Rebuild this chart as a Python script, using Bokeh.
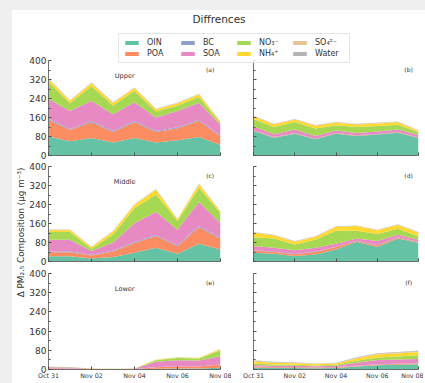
import pandas as pd
from bokeh.embed import file_html
from bokeh.layouts import column, row
from bokeh.models import (ColumnDataSource, CustomLabelingPolicy,
                          DatetimeTickFormatter, FixedTicker, Label, Legend,
                          LegendItem, Range1d)
from bokeh.palettes import Set2
from bokeh.plotting import figure
from bokeh.resources import INLINE

# ---------------------------------------------------------------- data
dates = pd.to_datetime(["2019-10-31", "2019-11-01", "2019-11-02", "2019-11-03",
                        "2019-11-04", "2019-11-05", "2019-11-06", "2019-11-07",
                        "2019-11-08"])
tick_dates = pd.to_datetime(["2019-10-31", "2019-11-02", "2019-11-04",
                             "2019-11-06", "2019-11-08"])

species = ["OIN", "POA", "BC", "SOA", "NO3", "NH4", "SO4", "Water"]
species_labels = ["OIN", "POA", "BC", "SOA", "NO₃⁻", "NH₄⁺", "SO₄²⁻", "Water"]
species_colors = list(Set2[8])

y_ticks = [0, 80, 160, 240, 320, 400]
y_minor_ticks = [40, 120, 200, 280, 360]

# left column (a, c, e)
upper_left = dict(
    OIN=[80, 60, 74, 55, 74, 55, 64, 78, 44],
    POA=[70, 48, 66, 44, 66, 44, 51, 68, 36],
    BC=[5, 4, 5, 4, 5, 4, 4, 5, 3],
    SOA=[83, 75, 86, 71, 79, 57, 68, 71, 47],
    NO3=[72, 33, 61, 37, 48, 25, 22, 24, 6],
    NH4=[12, 10, 12, 10, 11, 9, 10, 11, 5],
    SO4=[2, 2, 2, 2, 2, 2, 2, 2, 1],
    Water=[1, 1, 1, 1, 1, 1, 1, 1, 1],
)
middle_left = dict(
    OIN=[22, 22, 13, 19, 37, 58, 33, 75, 51],
    POA=[17, 17, 12, 23, 41, 49, 31, 69, 45],
    BC=[3, 3, 2, 3, 4, 5, 4, 6, 4],
    SOA=[50, 50, 17, 34, 79, 98, 66, 101, 61],
    NO3=[32, 32, 10, 34, 63, 72, 37, 58, 42],
    NH4=[8, 8, 6, 12, 14, 20, 6, 16, 7],
    SO4=[2, 2, 1, 2, 2, 2, 1, 2, 1],
    Water=[1, 1, 1, 1, 1, 1, 1, 1, 1],
)
lower_left = dict(
    OIN=[1, 1, 0.5, 0.3, 0.5, 3, 4, 4, 7],
    POA=[4, 3.5, 1.5, 1, 1, 6, 8, 8, 14],
    BC=[0.5, 0.5, 0.2, 0.2, 0.2, 1, 1, 1, 1],
    SOA=[4, 3.5, 1, 1, 1.5, 22, 26, 25, 33],
    NO3=[0.5, 0.5, 0.3, 0.2, 0.3, 7, 9, 8, 25],
    NH4=[0.5, 0.5, 0.3, 0.2, 0.3, 2, 2, 2, 4],
    SO4=[0.3, 0.3, 0.1, 0.1, 0.1, 0.5, 0.5, 0.5, 1],
    Water=[0.2, 0.2, 0.1, 0.1, 0.1, 0.5, 0.5, 0.5, 1],
)

# right column (b, d, f)
upper_right = dict(
    OIN=[103, 75, 92, 68, 92, 82, 88, 96, 74],
    POA=[2, 2, 2, 2, 2, 2, 2, 2, 1],
    BC=[1, 1, 1, 1, 1, 1, 1, 1, 1],
    SOA=[16, 12, 14, 11, 10, 10, 10, 11, 10],
    NO3=[32, 30, 32, 32, 22, 25, 23, 20, 12],
    NH4=[10, 11, 10, 11, 11, 11, 11, 10, 5],
    SO4=[2, 2, 2, 2, 2, 2, 2, 2, 2],
    Water=[1, 1, 1, 1, 1, 1, 1, 1, 1],
)
middle_right = dict(
    OIN=[37, 33, 23, 30, 51, 83, 61, 97, 79],
    POA=[8, 7, 8, 10, 10, 3, 6, 4, 3],
    BC=[2, 1, 1, 1, 1, 1, 1, 1, 1],
    SOA=[18, 17, 15, 17, 13, 10, 18, 11, 9],
    NO3=[37, 39, 25, 34, 55, 33, 30, 25, 14],
    NH4=[19, 13, 11, 11, 15, 19, 15, 16, 15],
    SO4=[2, 2, 2, 2, 2, 2, 2, 2, 2],
    Water=[1, 1, 1, 1, 1, 1, 1, 1, 1],
)
lower_right = dict(
    OIN=[8, 6, 6, 5, 6, 12, 18, 20, 22],
    POA=[3, 3, 3, 3, 3, 3, 3, 3, 3],
    BC=[1, 1, 1, 1, 1, 1, 1, 1, 1],
    SOA=[7, 6, 6, 5, 6, 12, 18, 18, 18],
    NO3=[6, 5, 4, 3, 4, 8, 10, 12, 15],
    NH4=[8, 6, 6, 5, 5, 10, 12, 13, 14],
    SO4=[4, 3, 3, 2, 2, 3, 4, 4, 4],
    Water=[2, 2, 1, 1, 1, 2, 2, 2, 2],
)

# ---------------------------------------------------------------- styling
FONT = "DejaVu Sans"
TEXT = "#333333"
AXIS = "#4d4d4d"


def to_ms(ts):
    return ts.value / 1e6


x_start, x_end = to_ms(dates[0]), to_ms(dates[-1])
x_span = x_end - x_start

# canvas height, top border, bottom border of each panel row
ROW_HEIGHT = [112, 112, 116]
ROW_TOP = [5, 5, 6]
ROW_BOTTOM = [10, 10, 14]


def no_labels():
    # keep the ticks, drop every tick label
    return CustomLabelingPolicy(code="return []")


def bare_figure(**kw):
    f = figure(output_backend="svg", toolbar_location=None,
               x_axis_location=None, y_axis_location=None,
               min_border_left=0, min_border_right=0,
               min_border_top=0, min_border_bottom=0, **kw)
    f.grid.visible = False
    f.outline_line_color = None
    f.border_fill_alpha = 0
    f.background_fill_alpha = 0
    return f


def make_panel(values, tag, col, row_idx, layer=None):
    left = col == 0
    p = figure(width=205 if left else 192, height=ROW_HEIGHT[row_idx],
               x_axis_type="datetime",
               x_range=Range1d(x_start, x_end), y_range=Range1d(0, 400),
               min_border_left=20 if left else 12,
               min_border_right=11 if left else 5,
               min_border_top=ROW_TOP[row_idx],
               min_border_bottom=ROW_BOTTOM[row_idx],
               output_backend="svg", toolbar_location=None)
    src = ColumnDataSource(dict(x=dates, **values))
    p.varea_stack(stackers=species, x="x", color=species_colors, source=src)

    p.grid.visible = False
    p.outline_line_color = None
    p.background_fill_color = "white"
    p.border_fill_alpha = 0

    xa, ya = p.xaxis[0], p.yaxis[0]
    for ax in (xa, ya):
        ax.axis_line_color = AXIS
        ax.axis_line_width = 0.8
        ax.major_tick_line_color = AXIS
        ax.minor_tick_line_color = AXIS
        ax.major_label_text_font = FONT
        ax.major_label_text_color = TEXT

    xa.ticker = FixedTicker(ticks=[to_ms(t) for t in tick_dates])
    xa.formatter = DatetimeTickFormatter(days="%b %d", months="%b %d",
                                         hours="%b %d")
    xa.major_tick_in = 3
    xa.major_tick_out = 0
    xa.minor_tick_in = 0
    xa.minor_tick_out = 0
    xa.major_label_standoff = 2
    xa.major_label_text_font_size = "6.3px"
    if row_idx != 2:
        xa.major_label_policy = no_labels()

    ya.ticker = FixedTicker(ticks=y_ticks, minor_ticks=y_minor_ticks)
    ya.bounds = (0, 400)
    ya.major_tick_in = 3
    ya.major_tick_out = 0
    ya.minor_tick_in = 2
    ya.minor_tick_out = 0
    ya.major_label_standoff = 2
    ya.major_label_text_font_size = "9px"
    if not left:
        ya.major_label_policy = no_labels()

    p.add_layout(Label(x=x_start + 0.94 * x_span, y=362, text=f"({tag})",
                       text_font=FONT, text_font_size="6px",
                       text_align="center", text_baseline="middle",
                       text_color=TEXT))
    if layer:
        p.add_layout(Label(x=x_start + 0.443 * x_span, y=334, text=layer,
                           text_font=FONT, text_font_size="6.6px",
                           text_align="center", text_baseline="middle",
                           text_color=TEXT))
    return p


pa = make_panel(upper_left, "a", 0, 0, layer="Upper")
pb = make_panel(upper_right, "b", 1, 0)
pc = make_panel(middle_left, "c", 0, 1, layer="Middle")
pd_ = make_panel(middle_right, "d", 1, 1)
pe = make_panel(lower_left, "e", 0, 2, layer="Lower")
pf = make_panel(lower_right, "f", 1, 2)

# rows overlap slightly so that tick labels near a row edge are never cut
panel_rows = column(row(pa, pb, margin=(0, 0, -6, 0)),
                    row(pc, pd_, margin=(0, 0, -6, 0)),
                    row(pe, pf))

# shared y-axis title: a tick-less axis in a narrow strip left of the panels
ylabel_strip = figure(width=14, height=328, x_range=Range1d(0, 1),
                      y_range=Range1d(0, 1), x_axis_location=None,
                      min_border_left=13, min_border_right=0,
                      min_border_top=113, min_border_bottom=87,
                      output_backend="svg", toolbar_location=None)
ylabel_strip.grid.visible = False
ylabel_strip.outline_line_color = None
ylabel_strip.border_fill_alpha = 0
ylabel_strip.background_fill_alpha = 0
sa = ylabel_strip.yaxis[0]
sa.ticker = FixedTicker(ticks=[])
sa.axis_line_color = None
sa.major_tick_line_color = None
sa.minor_tick_line_color = None
sa.major_label_standoff = 0
sa.major_tick_out = 0
sa.major_tick_in = 0
sa.axis_label = "Δ PM₂.₅ Composition (μg m⁻³)"
sa.axis_label_standoff = 0
sa.axis_label_text_font = FONT
sa.axis_label_text_font_size = "8.8px"
sa.axis_label_text_font_style = "normal"
sa.axis_label_text_color = TEXT

# ---------------------------------------------------------------- title + key
header = bare_figure(width=413, height=54, x_range=Range1d(0, 1),
                     y_range=Range1d(0, 1), title="Diffrences")
header.title.align = "center"
header.title.offset = 9.5
header.title.standoff = 0
header.title.text_line_height = 1.0
header.title.text_font = FONT
header.title.text_font_size = "10.5px"
header.title.text_font_style = "normal"
header.title.text_color = TEXT

key_src = ColumnDataSource(dict(x=dates, **upper_left))
key_renderers = header.varea_stack(stackers=species, x="x", color=species_colors,
                                   source=key_src)
for r in key_renderers:
    r.visible = False

legend = Legend(
    items=[LegendItem(label=lab, renderers=[r])
           for lab, r in zip(species_labels, key_renderers)],
    location=(106, 1), orientation="vertical", nrows=2,
    glyph_width=17, glyph_height=5, label_standoff=7,
    label_width=30, label_height=9, spacing=2, padding=4, margin=0,
    label_text_font=FONT, label_text_font_size="8px", label_text_color=TEXT,
    border_line_color="#cccccc", border_line_width=1,
    background_fill_color="white", background_fill_alpha=0.85,
)
header.add_layout(legend)
header.margin = (0, 0, -9, 0)
header.styles = {"position": "relative", "z-index": "2"}

inner = column(header, row(ylabel_strip, panel_rows),
               margin=(10, 0, 0, 12), styles={"background-color": "white"})
page = column(inner, styles={"background-color": "#efefef"})

open("out.html", "w").write(file_html(page, INLINE))
